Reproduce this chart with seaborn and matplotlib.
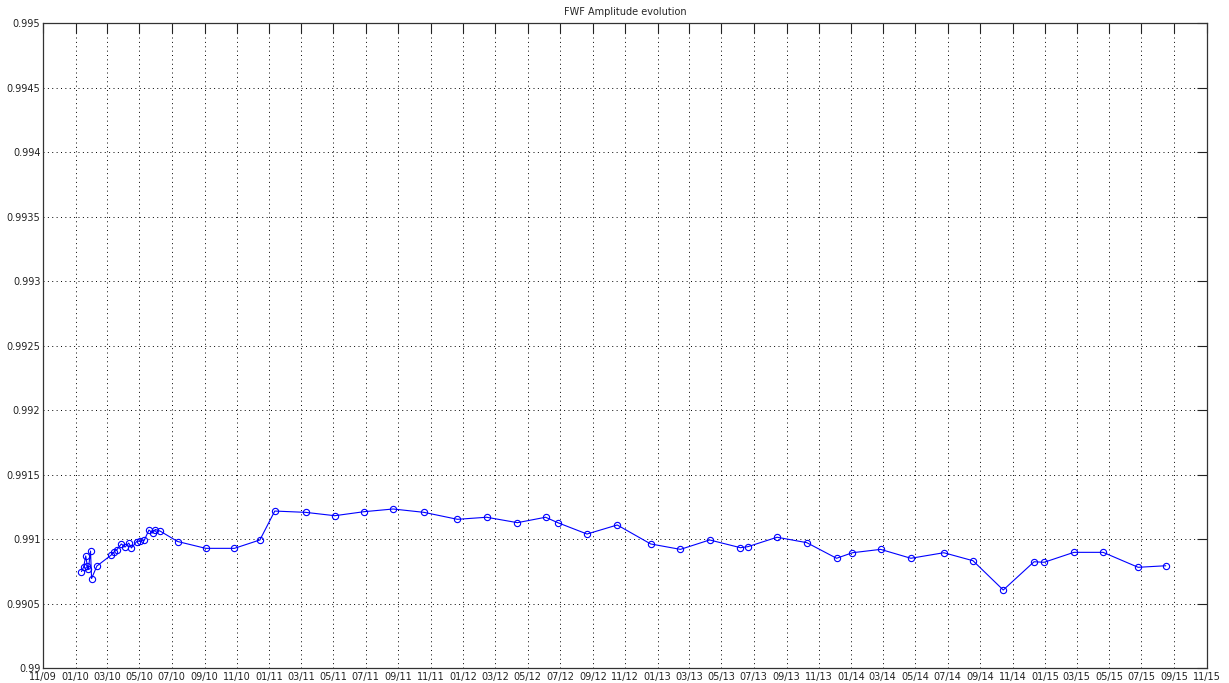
import numpy as np
import pandas as pd
import matplotlib
matplotlib.use('Agg')
import matplotlib.pyplot as plt
import matplotlib.dates as mdates
import seaborn as sns

dates = [
    '2010-01-12', '2010-01-16', '2010-01-20', '2010-01-23', '2010-01-25',
    '2010-01-29', '2010-01-31', '2010-02-10', '2010-03-09', '2010-03-15',
    '2010-03-20', '2010-03-28', '2010-04-04', '2010-04-11', '2010-04-16',
    '2010-04-26', '2010-05-03', '2010-05-10', '2010-05-19', '2010-05-26',
    '2010-05-31', '2010-06-09', '2010-07-12', '2010-09-03', '2010-10-27',
    '2010-12-14', '2011-01-11', '2011-03-10', '2011-05-04', '2011-06-28',
    '2011-08-22', '2011-10-19', '2011-12-21', '2012-02-14', '2012-04-12',
    '2012-06-04', '2012-06-27', '2012-08-21', '2012-10-17', '2012-12-19',
    '2013-02-13', '2013-04-09', '2013-06-06', '2013-06-20', '2013-08-14',
    '2013-10-09', '2013-12-04', '2014-01-03', '2014-02-25', '2014-04-23',
    '2014-06-24', '2014-08-18', '2014-10-14', '2014-12-11', '2014-12-30',
    '2015-02-24', '2015-04-20', '2015-06-25', '2015-08-16',
]
amplitude = [
    0.990750, 0.990785, 0.990871, 0.990793, 0.990770,
    0.990909, 0.990696, 0.990793, 0.990878, 0.990905,
    0.990921, 0.990964, 0.990940, 0.990971, 0.990933,
    0.990983, 0.990987, 0.990991, 0.991072, 0.991049,
    0.991076, 0.991064, 0.990983, 0.990930, 0.990930,
    0.990995, 0.991219, 0.991209, 0.991183, 0.991214,
    0.991235, 0.991209, 0.991155, 0.991171, 0.991129,
    0.991171, 0.991129, 0.991041, 0.991111, 0.990964,
    0.990922, 0.990995, 0.990935, 0.990943, 0.991016,
    0.990974, 0.990853, 0.990896, 0.990922, 0.990853,
    0.990896, 0.990834, 0.990607, 0.990826, 0.990822,
    0.990899, 0.990899, 0.990783, 0.990795,
]

y_ticks = [0.99, 0.9905, 0.991, 0.9915, 0.992, 0.9925,
           0.993, 0.9935, 0.994, 0.9945, 0.995]
y_tick_labels = ['0.99', '0.9905', '0.991', '0.9915', '0.992', '0.9925',
                 '0.993', '0.9935', '0.994', '0.9945', '0.995']
x_start = '2009-11-01'
x_end = '2015-11-01'

df = pd.DataFrame({'date': pd.to_datetime(dates), 'amp': amplitude})

sns.set_style('white')
plt.rcParams['font.family'] = ['DejaVu Sans']

fig = plt.figure(figsize=(12.29, 6.83), dpi=100)
ax = fig.add_axes([0.0352, 0.0215, 0.9466, 0.9444])

sns.lineplot(
    data=df, x='date', y='amp', ax=ax,
    sort=False, estimator=None,
    color='#0000ff', linewidth=0.8,
    marker='o', markersize=4.5,
    markerfacecolor='none', markeredgecolor='#0000ff', markeredgewidth=0.8
)

x_ticks = pd.date_range(x_start, x_end, freq='2MS')
ax.set_xlim(pd.Timestamp(x_start), pd.Timestamp(x_end))
ax.set_xticks(x_ticks)
ax.xaxis.set_major_formatter(mdates.DateFormatter('%m/%y'))

ax.set_ylim(y_ticks[0], y_ticks[-1])
ax.set_yticks(y_ticks)
ax.set_yticklabels(y_tick_labels)

# Пунктирная сетка, как в MATLAB
ax.grid(True, linestyle=(0, (1, 3.5)), color='black', linewidth=0.7)
ax.tick_params(axis='both', direction='in', length=7, width=0.8,
               top=True, right=True, labelsize=7, colors='#222222')
ax.tick_params(axis='x', pad=3)
ax.tick_params(axis='y', pad=2)
for s in ax.spines.values():
    s.set_color('#333333')
    s.set_linewidth(0.9)

ax.set_xlabel('')
ax.set_ylabel('')
ax.set_title('FWF Amplitude evolution', fontsize=7, pad=6)

fig.savefig('out.png', dpi=100)
